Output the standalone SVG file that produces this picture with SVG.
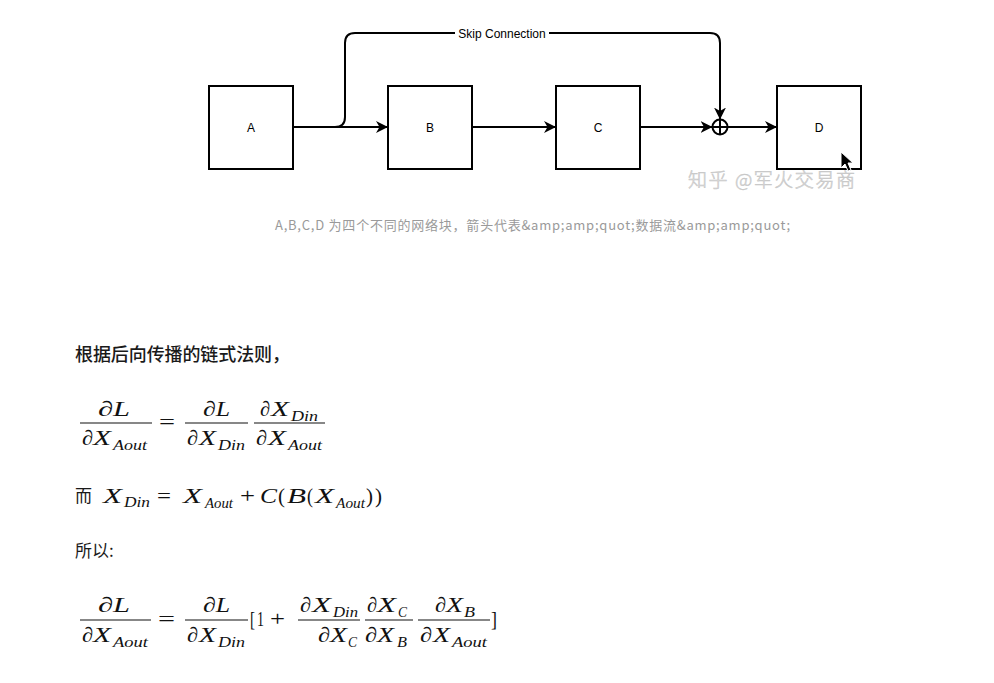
<svg xmlns="http://www.w3.org/2000/svg" width="994" height="683" viewBox="0 0 994 683">
<defs>
<marker id="arr" markerUnits="userSpaceOnUse" markerWidth="13" markerHeight="13" refX="12" refY="6" orient="auto">
<path d="M0,0 L12,6 L0,12 L3.5,6 z" fill="#000"/>
</marker>
<style>
.box{fill:#fff;stroke:#000;stroke-width:2}
.lbl{font-family:"Liberation Sans",Arial,sans-serif;font-size:12px;fill:#000;text-anchor:middle}
.con{fill:none;stroke:#000;stroke-width:2}
.m{font-family:"Liberation Serif","Times New Roman",serif;font-style:italic;font-size:21px;fill:#111}
.s{font-size:14px}
.r{font-style:normal}
.fl{stroke:#111;stroke-width:1.1}
.cjk{font-family:"Noto Sans CJK SC","Noto Sans",sans-serif;fill:#1a1a1a}
</style>
</defs>
<rect width="994" height="683" fill="#fff"/>

<g id="connectors">
<path class="con" d="M293,127 L388,127" marker-end="url(#arr)"/>
<path class="con" d="M335,127 Q345,127 345,117 L345,43 Q345,33 355,33 L710,33 Q720,33 720,43 L720,119.5" marker-end="url(#arr)"/>
<path class="con" d="M472,127 L556,127" marker-end="url(#arr)"/>
<path class="con" d="M640,127 L712.5,127" marker-end="url(#arr)"/>
<path class="con" d="M727.5,127 L777,127" marker-end="url(#arr)"/>
<rect x="455" y="27" width="94" height="13" fill="#fff"/>
<text class="lbl" x="502" y="38" font-size="11.5">Skip Connection</text>
</g>

<g id="node-A"><rect class="box" x="209" y="86" width="84" height="83"/><text class="lbl" x="251" y="132">A</text></g>
<g id="node-B"><rect class="box" x="388" y="86" width="84" height="83"/><text class="lbl" x="430" y="132">B</text></g>
<g id="node-C"><rect class="box" x="556" y="86" width="84" height="83"/><text class="lbl" x="598" y="132">C</text></g>
<g id="node-D"><rect class="box" x="777" y="86" width="84" height="83"/><text class="lbl" x="819" y="132">D</text></g>
<g id="node-sum">
<circle cx="720" cy="127" r="7.5" fill="#fff" stroke="#000" stroke-width="2"/>
<path d="M712.5,127 H727.5 M720,119.5 V134.5" stroke="#000" stroke-width="2"/>
</g>

<text x="688" y="187" font-family="Noto Sans CJK SC,sans-serif" font-size="19" font-weight="300" fill="#e2e2e2" stroke="#c4c4c4" stroke-width="0.5" textLength="167">知乎 @军火交易商</text>

<path d="M841,152 L841,168 L845,164 L848,171 L851,170 L848,163 L853,163 Z" fill="#000" stroke="#fff" stroke-width="1"/>

<text x="275" y="230" font-family="Noto Sans CJK SC,sans-serif" font-size="13" fill="#9a9a9a" textLength="515">A,B,C,D 为四个不同的网络块，箭头代表&amp;amp;amp;quot;数据流&amp;amp;amp;quot;</text>

<text class="cjk" x="75" y="361" font-size="18" font-weight="500" textLength="215">根据后向传播的链式法则，</text>

<!-- Equation 1 -->
<g id="eq1">
<line class="fl" x1="80" y1="423" x2="152" y2="423"/>
<text class="m" x="98" y="416" textLength="32" lengthAdjust="spacingAndGlyphs">∂L</text>
<text class="m" x="82" y="445" textLength="11" lengthAdjust="spacingAndGlyphs">∂</text>
<text class="m" x="93" y="445" textLength="18" lengthAdjust="spacingAndGlyphs">X</text>
<text class="m s" x="113" y="450" textLength="34" lengthAdjust="spacingAndGlyphs">Aout</text>
<text class="m r" x="159" y="429" textLength="16" lengthAdjust="spacingAndGlyphs">=</text>
<line class="fl" x1="185" y1="423" x2="248" y2="423"/>
<text class="m" x="203" y="416" textLength="27" lengthAdjust="spacingAndGlyphs">∂L</text>
<text class="m" x="187" y="445" textLength="11" lengthAdjust="spacingAndGlyphs">∂</text>
<text class="m" x="199" y="445" textLength="17" lengthAdjust="spacingAndGlyphs">X</text>
<text class="m s" x="218" y="450" textLength="27" lengthAdjust="spacingAndGlyphs">Din</text>
<line class="fl" x1="254" y1="423" x2="325" y2="423"/>
<text class="m" x="260" y="416" textLength="10" lengthAdjust="spacingAndGlyphs">∂</text>
<text class="m" x="271" y="416" textLength="18" lengthAdjust="spacingAndGlyphs">X</text>
<text class="m s" x="291" y="421" textLength="27" lengthAdjust="spacingAndGlyphs">Din</text>
<text class="m" x="256" y="445" textLength="11" lengthAdjust="spacingAndGlyphs">∂</text>
<text class="m" x="268" y="445" textLength="18" lengthAdjust="spacingAndGlyphs">X</text>
<text class="m s" x="288" y="450" textLength="34" lengthAdjust="spacingAndGlyphs">Aout</text>
</g>

<!-- Equation 2 -->
<g id="eq2">
<text class="cjk" x="75" y="502" font-size="17">而</text>
<text class="m" x="103" y="503" textLength="19" lengthAdjust="spacingAndGlyphs">X</text>
<text class="m s" x="124" y="507" textLength="26" lengthAdjust="spacingAndGlyphs">Din</text>
<text class="m r" x="157" y="503" textLength="14" lengthAdjust="spacingAndGlyphs">=</text>
<text class="m" x="183" y="503" textLength="19" lengthAdjust="spacingAndGlyphs">X</text>
<text class="m s" x="205" y="508" textLength="28" lengthAdjust="spacingAndGlyphs">Aout</text>
<text class="m r" x="240" y="503" textLength="15" lengthAdjust="spacingAndGlyphs">+</text>
<text class="m" x="260" y="503" textLength="17" lengthAdjust="spacingAndGlyphs">C</text>
<text class="m r" x="278" y="503" textLength="7" lengthAdjust="spacingAndGlyphs">(</text>
<text class="m" x="287" y="503" textLength="19" lengthAdjust="spacingAndGlyphs">B</text>
<text class="m r" x="307" y="503" textLength="6" lengthAdjust="spacingAndGlyphs">(</text>
<text class="m" x="315" y="503" textLength="19" lengthAdjust="spacingAndGlyphs">X</text>
<text class="m s" x="336" y="508" textLength="29" lengthAdjust="spacingAndGlyphs">Aout</text>
<text class="m r" x="366" y="503" textLength="7" lengthAdjust="spacingAndGlyphs">)</text>
<text class="m r" x="375" y="503" textLength="7" lengthAdjust="spacingAndGlyphs">)</text>
</g>

<text class="cjk" x="75" y="557" font-size="17">所以:</text>

<!-- Equation 3 -->
<g id="eq3">
<line class="fl" x1="80" y1="620" x2="151" y2="620"/>
<text class="m" x="98" y="612" textLength="32" lengthAdjust="spacingAndGlyphs">∂L</text>
<text class="m" x="82" y="642" textLength="11" lengthAdjust="spacingAndGlyphs">∂</text>
<text class="m" x="93" y="642" textLength="18" lengthAdjust="spacingAndGlyphs">X</text>
<text class="m s" x="113" y="647" textLength="35" lengthAdjust="spacingAndGlyphs">Aout</text>
<text class="m r" x="158" y="626" textLength="17" lengthAdjust="spacingAndGlyphs">=</text>
<line class="fl" x1="185" y1="620" x2="248" y2="620"/>
<text class="m" x="203" y="612" textLength="27" lengthAdjust="spacingAndGlyphs">∂L</text>
<text class="m" x="187" y="642" textLength="11" lengthAdjust="spacingAndGlyphs">∂</text>
<text class="m" x="199" y="642" textLength="17" lengthAdjust="spacingAndGlyphs">X</text>
<text class="m s" x="218" y="647" textLength="27" lengthAdjust="spacingAndGlyphs">Din</text>
<text class="m r" x="250" y="626" textLength="5" lengthAdjust="spacingAndGlyphs">[</text>
<text class="m r" x="257" y="626" textLength="7" lengthAdjust="spacingAndGlyphs">1</text>
<text class="m r" x="270" y="626" textLength="15" lengthAdjust="spacingAndGlyphs">+</text>
<line class="fl" x1="298" y1="620" x2="360" y2="620"/>
<text class="m" x="300" y="612" textLength="11" lengthAdjust="spacingAndGlyphs">∂</text>
<text class="m" x="312" y="612" textLength="19" lengthAdjust="spacingAndGlyphs">X</text>
<text class="m s" x="333" y="617" textLength="25" lengthAdjust="spacingAndGlyphs">Din</text>
<text class="m" x="318" y="642" textLength="12" lengthAdjust="spacingAndGlyphs">∂</text>
<text class="m" x="330" y="642" textLength="17" lengthAdjust="spacingAndGlyphs">X</text>
<text class="m s" x="348" y="647" textLength="9" lengthAdjust="spacingAndGlyphs">C</text>
<line class="fl" x1="365" y1="620" x2="413" y2="620"/>
<text class="m" x="367" y="612" textLength="10" lengthAdjust="spacingAndGlyphs">∂</text>
<text class="m" x="377" y="612" textLength="19" lengthAdjust="spacingAndGlyphs">X</text>
<text class="m s" x="398" y="617" textLength="9" lengthAdjust="spacingAndGlyphs">C</text>
<text class="m" x="365" y="642" textLength="12" lengthAdjust="spacingAndGlyphs">∂</text>
<text class="m" x="377" y="642" textLength="17" lengthAdjust="spacingAndGlyphs">X</text>
<text class="m s" x="397" y="647" textLength="10" lengthAdjust="spacingAndGlyphs">B</text>
<line class="fl" x1="418" y1="620" x2="490" y2="620"/>
<text class="m" x="435" y="612" textLength="11" lengthAdjust="spacingAndGlyphs">∂</text>
<text class="m" x="446" y="612" textLength="17" lengthAdjust="spacingAndGlyphs">X</text>
<text class="m s" x="464" y="617" textLength="11" lengthAdjust="spacingAndGlyphs">B</text>
<text class="m" x="420" y="642" textLength="12" lengthAdjust="spacingAndGlyphs">∂</text>
<text class="m" x="433" y="642" textLength="17" lengthAdjust="spacingAndGlyphs">X</text>
<text class="m s" x="452" y="647" textLength="35" lengthAdjust="spacingAndGlyphs">Aout</text>
<text class="m r" x="491" y="626" textLength="6" lengthAdjust="spacingAndGlyphs">]</text>
</g>
</svg>
